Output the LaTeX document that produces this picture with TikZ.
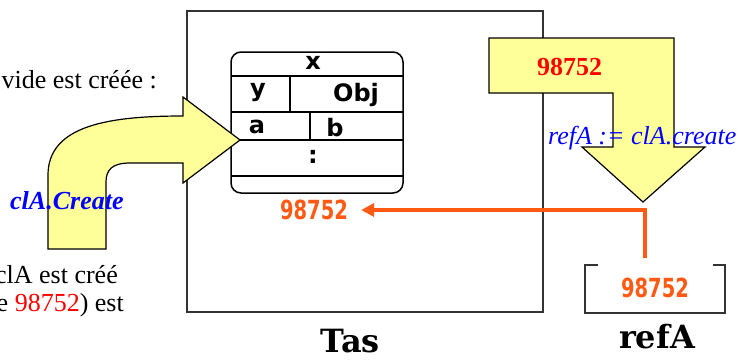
\documentclass[tikz,border=0pt]{standalone}
\usepackage{fontspec}
\setmainfont{Liberation Serif}
\newfontfamily\cellfont{DejaVu Sans}
\newfontfamily\slabfont{DejaVu Serif}
\usetikzlibrary{arrows.meta}
\definecolor{arrowyellow}{RGB}{255,255,153}
\definecolor{addrorange}{RGB}{255,90,20}
\definecolor{codeblue}{RGB}{0,0,255}
\definecolor{heapgray}{RGB}{51,51,51}

\begin{document}
\begin{tikzpicture}[x=1pt,y=-1pt,
  bigarrow/.style={fill=arrowyellow,draw=black,line width=1.2pt,line join=miter},
  celltext/.style={font=\cellfont\bfseries\fontsize{24}{24}\selectfont,inner sep=0pt},
  addrtext/.style={text=addrorange,inner sep=0pt,font=\cellfont\bfseries\fontsize{19.5}{20}\selectfont},
  prose/.style={font=\fontsize{26}{30}\selectfont,inner sep=0pt},
  code/.style={text=codeblue,inner sep=0pt,font=\itshape\fontsize{26}{30}\selectfont},
  caption/.style={font=\slabfont\bfseries\fontsize{32}{32}\selectfont,inner sep=0pt}]
  \useasboundingbox (0,0) rectangle (746,360);
  \clip (0,0) rectangle (746,360);
  % heap
  \draw[heapgray,line width=2pt] (187,11) rectangle (543,312);
  % object in the heap
  \draw[line width=1.5pt,rounded corners=10pt] (231,52) rectangle (403,193);
  \foreach \y in {76,112,140,176}
    \draw[line width=1.5pt] (231,\y) -- (403,\y);
  \draw[line width=1.5pt] (290,76) -- (290,112);
  \draw[line width=1.5pt] (310,112) -- (310,140);
  \node[celltext] (fx) at (313,63) {x};
  \node[celltext] (fy) at (258,93) {y};
  \node[celltext] (fobj) at (356,95) {Obj};
  \node[celltext] (fa) at (257,127) {a};
  \node[celltext] (fb) at (335,128) {b};
  \node[celltext] (fdots) at (313,157) {:};
  \node[addrtext,inner xsep=13pt] (addr) at (314,210) {\scalebox{1}[1.35]{98752}};
  % text on the left
  \node[prose,anchor=base east] (intro) at (157,88) {vide est créée :};
  \node[prose,anchor=base east] (created) at (118,283) {clA est créé};
  \node[prose,anchor=base east] (refnote) at (124,311) {e \textcolor{red}{98752}) est};
  % create arrow
  \draw[bigarrow] (48,249) -- (48,175) .. controls (48,125) and (110,116) .. (183,116)
    -- (183,97) -- (240,140) -- (183,183) -- (183,163) -- (130,163)
    .. controls (112,163) and (106,170) .. (106,182) -- (106,249) -- cycle;
  % assignment arrow
  \draw[bigarrow] (489,38) -- (674,38) -- (674,147) -- (705,147) -- (643,202)
    -- (582,147) -- (613,147) -- (613,93) -- (489,93) -- cycle;
  \node[code,font=\bfseries\itshape\fontsize{26}{30}\selectfont,anchor=base west] (create) at (10,209) {clA.Create};
  \node[code,anchor=base west] (assign) at (548,144) {refA := clA.create};
  \node[anchor=base west,inner sep=0pt,text=red,font=\bfseries\fontsize{26}{30}\selectfont] (newref) at (537,75) {98752};
  % variable refA
  \draw[heapgray,line width=2pt] (598,265) -- (585,265) -- (585,313) -- (725,313) -- (725,265) -- (713,265);
  \node[addrtext] (refval) at (655,288) {\scalebox{1}[1.35]{98752}};
  \coordinate (refout) at (645,258);
  \draw[addrorange,line width=4pt,-{Triangle[length=13pt,width=13pt]}] (refout) |- (addr);
  % captions
  \node[caption,anchor=base] (taslabel) at (350,352) {Tas};
  \node[caption,anchor=base] (reflabel) at (657,348) {refA};
\end{tikzpicture}
\end{document}
